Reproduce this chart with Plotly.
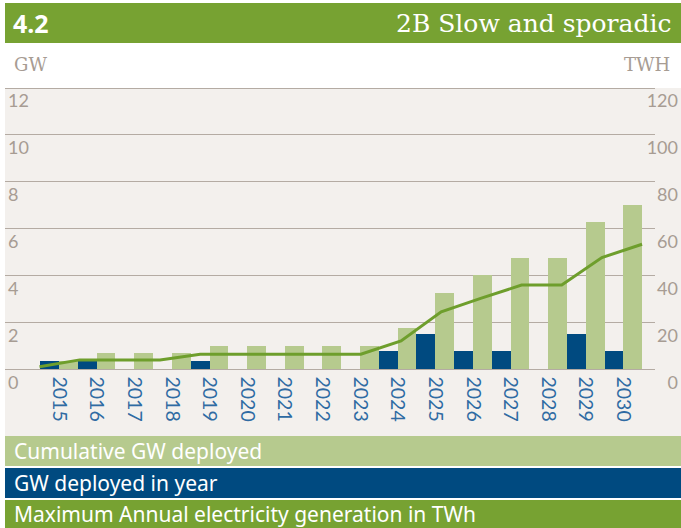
import plotly.graph_objects as go

# ---------------- data ----------------
years = ["2015", "2016", "2017", "2018", "2019", "2020", "2021", "2022",
         "2023", "2024", "2025", "2026", "2027", "2028", "2029", "2030"]
years_num = [2015, 2016, 2017, 2018, 2019, 2020, 2021, 2022,
             2023, 2024, 2025, 2026, 2027, 2028, 2029, 2030]
gw_deployed_in_year = [0.33, 0.33, 0, 0, 0.33, 0, 0, 0,
                       0, 0.75, 1.5, 0.75, 0.75, 0, 1.5, 0.75]
gw_cumulative = [0.33, 0.67, 0.67, 0.67, 1.0, 1.0, 1.0, 1.0,
                 1.0, 1.75, 3.25, 4.0, 4.75, 4.75, 6.25, 7.0]
twh_generation = [1.2, 4.1, 4.1, 4.1, 6.5, 6.5, 6.5, 6.5,
                  6.5, 12.2, 24.6, 30.4, 36.0, 36.0, 47.7, 53.4]
gw_ticks = [0, 2, 4, 6, 8, 10, 12]
twh_ticks = [0, 20, 40, 60, 80, 100, 120]

title_number = "4.2"
title_text = "2B Slow and sporadic"
left_unit = "GW"
right_unit = "TWH"
legend_labels = ["Cumulative GW deployed", "GW deployed in year",
                 "Maximum Annual electricity generation in TWh"]

# ---------------- style ----------------
W, H = 681, 528
C_HEADER = "#77a232"
C_LIGHT = "#b6ca8e"
C_DARK = "#004a80"
C_LINE = "#6e9e2c"
C_BG = "#f3f0ed"
C_GRID = "#b4aba3"
C_TICK = "#a79c93"
C_XTICK = "#2f6ba3"


def px(x):
    return x / W


def py(y):
    return 1 - y / H


fig = go.Figure()

fig.add_trace(go.Bar(x=years, y=gw_deployed_in_year, name=legend_labels[1],
                     marker=dict(color=C_DARK, line=dict(width=0)),
                     xaxis="x", yaxis="y"))
fig.add_trace(go.Bar(x=years, y=gw_cumulative, name=legend_labels[0],
                     marker=dict(color=C_LIGHT, line=dict(width=0)),
                     xaxis="x", yaxis="y"))
fig.add_trace(go.Scatter(x=years_num, y=twh_generation, name=legend_labels[2],
                         mode="lines", line=dict(color=C_LINE, width=3),
                         xaxis="x2", yaxis="y2"))

# scale: 0 GW at y=369.5 px, 12 GW at y=88 px
zero_px, top_px, bottom_px = 369.5, 88.0, 436.0
px_per_gw = (zero_px - top_px) / 12.0
y_min = -(bottom_px - zero_px) / px_per_gw
y_max = 12.15
dom_top_px = zero_px - y_max * px_per_gw

fig.update_layout(
    width=W, height=H,
    margin=dict(l=0, r=0, t=0, b=0),
    paper_bgcolor="white",
    plot_bgcolor="rgba(0,0,0,0)",
    showlegend=False,
    barmode="group", bargap=0, bargroupgap=0,
    xaxis=dict(
        type="category", domain=[px(5), px(655)],
        range=[-1.435, 15.838],
        anchor="free", position=py(zero_px),
        tickangle=90, ticks="", showgrid=False, showline=False, zeroline=False,
        tickfont=dict(family="Lato", size=19.5, color=C_XTICK),
        ticklabelstandoff=6,
    ),
    xaxis2=dict(
        overlaying="x", range=[2015 - 0.859, 2015 + 15.322],
        visible=False,
    ),
    yaxis=dict(
        domain=[py(bottom_px), py(dom_top_px)],
        range=[y_min, y_max],
        tickvals=gw_ticks,
        showgrid=True, gridcolor=C_GRID, gridwidth=1.2,
        zeroline=False, showline=False, ticks="",
        ticklabelposition="inside", ticklabelshift=13, ticklabelstandoff=0,
        tickfont=dict(family="Lato", size=18, color=C_TICK),
    ),
    yaxis2=dict(
        overlaying="y", side="right", anchor="free", position=1.0,
        range=[y_min * 10, y_max * 10],
        tickvals=twh_ticks,
        showgrid=False, zeroline=False, showline=False, ticks="",
        ticklabelposition="inside", ticklabelshift=13,
        tickfont=dict(family="Lato", size=18, color=C_TICK),
    ),
)

shapes = [
    # header bar
    dict(type="rect", xref="paper", yref="paper", x0=px(5), x1=1,
         y0=py(43), y1=py(3), fillcolor=C_HEADER, line=dict(width=0), layer="below"),
    # chart background
    dict(type="rect", xref="paper", yref="paper", x0=px(5), x1=1,
         y0=py(bottom_px), y1=py(top_px), fillcolor=C_BG, line=dict(width=0), layer="below"),
    # legend bands
    dict(type="rect", xref="paper", yref="paper", x0=px(5), x1=1,
         y0=py(466), y1=py(436), fillcolor=C_LIGHT, line=dict(width=0)),
    dict(type="rect", xref="paper", yref="paper", x0=px(5), x1=1,
         y0=py(498), y1=py(468), fillcolor=C_DARK, line=dict(width=0)),
    dict(type="rect", xref="paper", yref="paper", x0=px(5), x1=1,
         y0=py(528), y1=py(500), fillcolor=C_HEADER, line=dict(width=0)),
]
fig.update_layout(shapes=shapes)

ann = [
    dict(text="<b>" + title_number + "</b>", x=px(11), y=py(23), xref="paper", yref="paper",
         xanchor="left", yanchor="middle", showarrow=False,
         font=dict(family="Noto Sans", size=25, color="white")),
    dict(text=title_text, x=px(673), y=py(23), xref="paper", yref="paper",
         xanchor="right", yanchor="middle", showarrow=False,
         font=dict(family="DejaVu Serif", size=25, color="white")),
    dict(text=left_unit, x=px(12), y=py(65), xref="paper", yref="paper",
         xanchor="left", yanchor="middle", showarrow=False,
         font=dict(family="DejaVu Serif", size=18, color=C_TICK)),
    dict(text=right_unit, x=px(672), y=py(65), xref="paper", yref="paper",
         xanchor="right", yanchor="middle", showarrow=False,
         font=dict(family="DejaVu Serif", size=18, color=C_TICK)),
]
band_centers = [451, 483, 514]
for label, yc in zip(legend_labels, band_centers):
    ann.append(dict(text=label, x=px(12), y=py(yc), xref="paper", yref="paper",
                    xanchor="left", yanchor="middle", showarrow=False,
                    font=dict(family="Noto Sans", size=21, color="white")))
fig.update_layout(annotations=ann)

fig.write_html("out.html", config={"displayModeBar": False},
               post_script="document.body.style.margin='0';document.body.style.overflow='hidden';")
